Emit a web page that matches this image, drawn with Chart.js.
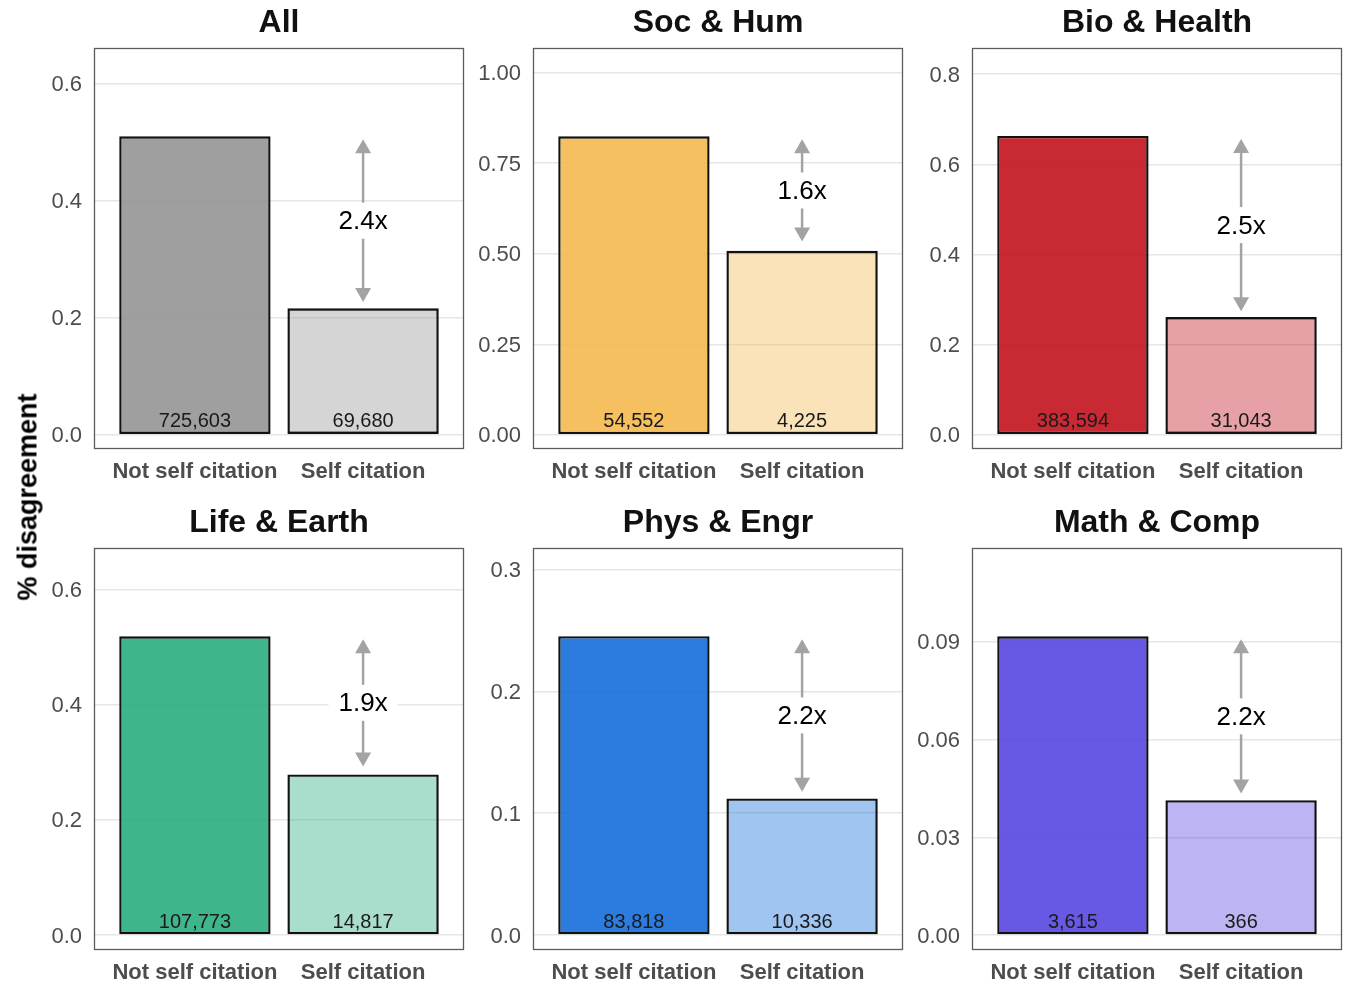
<!DOCTYPE html>
<html>
<head>
<meta charset="utf-8">
<script src="https://cdn.jsdelivr.net/npm/chart.js@4.4.1/dist/chart.umd.min.js"></script>
<style>
  html, body { margin: 0; padding: 0; background: #fff; overflow: hidden; width: 1345px; height: 987px; }
  #fig { position: relative; width: 1345px; height: 987px; overflow: hidden; }
  #fig canvas { position: absolute; }
  #ylab {
    position: absolute; left: 28px; top: 497px; z-index: 5;
    transform: translate(-50%, -50%) rotate(-90deg);
    font: bold 27px 'Liberation Sans', Arial, sans-serif; color: #000; white-space: nowrap;
  }
</style>
</head>
<body>
<div id="fig"><div id="ylab">% disagreement</div></div>
<script>
// ---- data ----
const panelTitles   = ['All', 'Soc & Hum', 'Bio & Health', 'Life & Earth', 'Phys & Engr', 'Math & Comp'];
const categories    = ['Not self citation', 'Self citation'];
const notSelfRate   = [0.510, 0.824, 0.663, 0.5185, 0.2453, 0.0917];
const selfRate      = [0.216, 0.508, 0.261, 0.2787, 0.1121, 0.0414];
const notSelfCount  = [725603, 54552, 383594, 107773, 83818, 3615];
const selfCount     = [69680, 4225, 31043, 14817, 10336, 366];
const yTickValues   = [[0, 0.2, 0.4, 0.6], [0, 0.25, 0.5, 0.75, 1], [0, 0.2, 0.4, 0.6, 0.8],
                       [0, 0.2, 0.4, 0.6], [0, 0.1, 0.2, 0.3], [0, 0.03, 0.06, 0.09]];
const yTickLabels   = [['0.0', '0.2', '0.4', '0.6'], ['0.00', '0.25', '0.50', '0.75', '1.00'],
                       ['0.0', '0.2', '0.4', '0.6', '0.8'], ['0.0', '0.2', '0.4', '0.6'],
                       ['0.0', '0.1', '0.2', '0.3'], ['0.00', '0.03', '0.06', '0.09']];
const yAxisMin      = [-0.0244, -0.0394, -0.0317, -0.026, -0.0123, -0.0046];
const yAxisMax      = [0.661, 1.068, 0.858, 0.6716, 0.3177, 0.1188];

// ---- styling / layout ----
const FONT = "'Liberation Sans', Arial, sans-serif";
const fieldColors = [[149, 149, 149], [245, 185, 79], [194, 18, 29], [42, 173, 127], [21, 110, 221], [86, 71, 225]];
const rgba = (c, a) => `rgba(${c[0]},${c[1]},${c[2]},${a})`;
const boxLefts = [94, 533, 972];
const boxTops = [48, 548];
const boxW = 370;
const boxH = [401, 402];
const SIDE = 70, TITLE_H = 48, XAXIS_H = [40, 37];

const fmtCount = n => String(n).replace(/\B(?=(\d{3})+(?!\d))/g, ',');

// panel frame, count labels and ratio arrow
const panelDecor = {
  id: 'panelDecor',
  afterDatasetsDraw(chart, args, opts) {
    const p = opts.panel;
    const xs = chart.scales.x, ys = chart.scales.y;
    const ctx = chart.ctx;
    const a = chart.chartArea;
    ctx.save();

    // sample sizes at the foot of each bar
    ctx.font = `20px ${FONT}`;
    ctx.fillStyle = '#1a1a1a';
    ctx.textAlign = 'center';
    ctx.textBaseline = 'middle';
    const y0 = ys.getPixelForValue(0);
    [notSelfCount[p], selfCount[p]].forEach((n, i) => {
      ctx.fillText(fmtCount(n), xs.getPixelForValue(i + 1), y0 - 13);
    });

    // double-headed arrow between the two rates
    const ax = xs.getPixelForValue(2);
    const yTop = ys.getPixelForValue(notSelfRate[p] * 0.99);
    const yBot = ys.getPixelForValue(selfRate[p] * 1.05);
    const head = 14, hw = 8;
    ctx.strokeStyle = '#a3a3a3';
    ctx.fillStyle = '#a3a3a3';
    ctx.lineWidth = 2.5;
    ctx.beginPath();
    ctx.moveTo(ax, yTop + head - 1);
    ctx.lineTo(ax, yBot - head + 1);
    ctx.stroke();
    ctx.beginPath();
    ctx.moveTo(ax, yTop); ctx.lineTo(ax - hw, yTop + head); ctx.lineTo(ax + hw, yTop + head);
    ctx.closePath(); ctx.fill();
    ctx.beginPath();
    ctx.moveTo(ax, yBot); ctx.lineTo(ax - hw, yBot - head); ctx.lineTo(ax + hw, yBot - head);
    ctx.closePath(); ctx.fill();

    // ratio label on a white patch
    const label = (notSelfRate[p] / selfRate[p]).toFixed(1) + 'x';
    ctx.font = `26px ${FONT}`;
    const tw = ctx.measureText(label).width;
    const ym = (yTop + yBot) / 2;
    ctx.fillStyle = '#fff';
    ctx.fillRect(ax - tw / 2 - 10, ym - 18, tw + 20, 36);
    ctx.fillStyle = '#000';
    ctx.fillText(label, ax, ym + 1.5);

    // panel border
    ctx.strokeStyle = '#5c5c5c';
    ctx.lineWidth = 1.3;
    ctx.strokeRect(a.left + 0.5, a.top + 0.5, a.right - a.left - 1, a.bottom - a.top - 1);
    ctx.restore();
  }
};

const fig = document.getElementById('fig');

panelTitles.forEach((title, p) => {
  const row = Math.floor(p / 3), col = p % 3;
  const canvas = document.createElement('canvas');
  const cw = boxW + 2 * SIDE;
  const ch = TITLE_H + boxH[row] + XAXIS_H[row];
  canvas.width = cw;
  canvas.height = ch;
  canvas.style.left = (boxLefts[col] - SIDE) + 'px';
  canvas.style.top = (boxTops[row] - TITLE_H) + 'px';
  canvas.style.width = cw + 'px';
  canvas.style.height = ch + 'px';
  fig.appendChild(canvas);

  const c = fieldColors[p];
  new Chart(canvas, {
    type: 'bar',
    data: {
      datasets: [{
        data: [{ x: 1, y: notSelfRate[p] }, { x: 2, y: selfRate[p] }],
        backgroundColor: [rgba(c, 0.9), rgba(c, 0.4)],
        borderColor: '#111',
        borderWidth: 2.4,
        borderSkipped: false,
        categoryPercentage: 1,
        barPercentage: 0.9
      }]
    },
    options: {
      responsive: false,
      animation: false,
      events: [],
      layout: { padding: 0 },
      scales: {
        x: {
          type: 'linear',
          offset: false,
          min: 0.4, max: 2.6,
          afterBuildTicks: s => { s.ticks = [{ value: 1 }, { value: 2 }]; },
          afterFit: s => { s.height = XAXIS_H[row]; },
          grid: { display: false, drawTicks: false },
          border: { display: false },
          ticks: {
            padding: 10,
            color: '#4d4d4d',
            font: { family: FONT, size: 22, weight: 'bold' },
            callback: v => categories[v - 1],
            maxRotation: 0, autoSkip: false
          }
        },
        y: {
          type: 'linear',
          position: 'left',
          min: yAxisMin[p], max: yAxisMax[p],
          afterBuildTicks: s => { s.ticks = yTickValues[p].map(v => ({ value: v })); },
          afterFit: s => { s.width = SIDE; },
          grid: { color: '#e6e6e6', lineWidth: 1.4, drawTicks: false },
          border: { display: false },
          ticks: {
            padding: 12,
            labelOffset: 1.5,
            color: '#4d4d4d',
            font: { family: FONT, size: 22 },
            callback: (v, i) => yTickLabels[p][i],
            autoSkip: false
          }
        },
        yRight: {
          type: 'linear',
          position: 'right',
          afterFit: s => { s.width = SIDE; },
          grid: { display: false, drawTicks: false },
          border: { display: false },
          ticks: { display: false }
        }
      },
      plugins: {
        legend: { display: false },
        tooltip: { enabled: false },
        title: {
          display: true,
          text: title,
          color: '#111',
          font: { family: FONT, size: 32, weight: 'bold', lineHeight: '36px' },
          padding: { top: 5, bottom: 7 }
        },
        panelDecor: { panel: p }
      }
    },
    plugins: [panelDecor]
  });
});
</script>
</body>
</html>
